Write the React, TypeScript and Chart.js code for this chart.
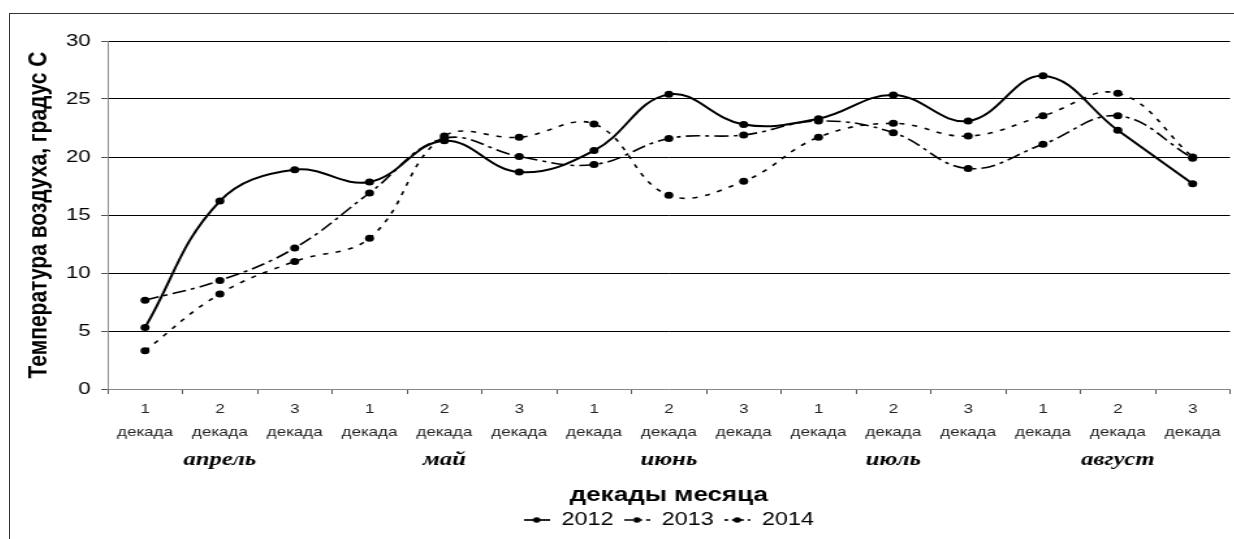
import React, { useEffect, useRef } from 'react';
import { Chart, registerables } from 'chart.js';

Chart.register(...registerables);

// ---- data ----
const decadeNumbers = ['1', '2', '3', '1', '2', '3', '1', '2', '3', '1', '2', '3', '1', '2', '3'];
const decadeWord = 'декада';
const monthNames = ['апрель', 'май', 'июнь', 'июль', 'август'];
const seriesNames = ['2012', '2013', '2014'];
const series2012 = [5.3, 16.2, 18.9, 17.85, 21.4, 18.7, 20.55, 25.4, 22.8, 23.3, 25.35, 23.1, 27.0, 22.3, 17.7];
const series2013 = [7.65, 9.35, 12.15, 16.9, 21.6, 20.05, 19.35, 21.6, 21.9, 23.1, 22.1, 19.0, 21.1, 23.55, 19.9];
const series2014 = [3.3, 8.2, 11.0, 13.0, 21.8, 21.7, 22.85, 16.7, 17.9, 21.7, 22.9, 21.8, 23.55, 25.5, 20.0];
const yTitle = 'Температура воздуха, градус С';
const xTitle = 'декады месяца';
const yMin = 0;
const yMax = 30;
const yStep = 5;

const S = 1.3; // horizontal stretch of the reference picture

const monthTicks = decadeNumbers.map((d, i) => (d === '2' ? monthNames[Math.floor(i / 3)] : ''));

export default function App() {
  const ref = useRef<HTMLCanvasElement>(null);

  useEffect(() => {
    document.body.style.overflow = 'hidden';
    Chart.defaults.font.family = "'Liberation Sans', Arial, sans-serif";

    const IW = 20;
    const mkIcon = (dash: number[]) => {
      const c = document.createElement('canvas');
      c.width = IW;
      c.height = 8;
      const g = c.getContext('2d')!;
      g.strokeStyle = '#000';
      g.lineWidth = 1.7;
      g.setLineDash(dash);
      g.beginPath();
      g.moveTo(0, 4);
      g.lineTo(IW, 4);
      g.stroke();
      g.setLineDash([]);
      g.fillStyle = '#000';
      g.beginPath();
      g.arc(IW / 2, 4, 2.8, 0, Math.PI * 2);
      g.fill();
      return c;
    };
    const dashes = [[], [11, 4, 3, 4], [4, 6]];
    const iconDashes = [[], [7, 4, 3, 3], [3, 3]];
    const icons = iconDashes.map(mkIcon);
    const values = [series2012, series2013, series2014];

    const chart = new Chart(ref.current!, {
      type: 'line',
      data: {
        labels: decadeNumbers.map((n) => [n, decadeWord]),
        datasets: values.map((v, i) => ({
          label: seriesNames[i],
          data: v,
          borderColor: '#000',
          backgroundColor: '#000',
          borderWidth: i === 0 ? 2 : 1.6,
          borderDash: dashes[i],
          pointRadius: 3.5,
          pointBackgroundColor: '#000',
          pointBorderWidth: 0,
          tension: 0.4,
          fill: false,
        })),
      },
      options: {
        animation: false,
        responsive: true,
        maintainAspectRatio: false,
        events: [],
        layout: { padding: { top: 27, right: 1, left: 0, bottom: 0 } },
        plugins: {
          tooltip: { enabled: false },
          legend: {
            position: 'bottom',
            fullSize: false,
            labels: {
              usePointStyle: true,
              pointStyleWidth: IW,
              padding: 8,
              color: '#000',
              font: { size: 18 },
              generateLabels: (ch: any) =>
                ch.data.datasets.map((ds: any, i: number) => ({
                  text: ds.label,
                  pointStyle: icons[i],
                  datasetIndex: i,
                  hidden: false,
                  fillStyle: '#000',
                  strokeStyle: '#000',
                  lineWidth: 0,
                  fontColor: '#000',
                })),
            },
          },
        },
        scales: {
          x: {
            type: 'category',
            position: 'bottom',
            offset: true,
            grid: {
              offset: true,
              drawOnChartArea: false,
              drawTicks: true,
              tickLength: 5,
              color: '#555',
            },
            border: { color: '#888', width: 1 },
            ticks: {
              autoSkip: false,
              maxRotation: 0,
              minRotation: 0,
              padding: 4,
              color: '#222',
              font: { size: 13, lineHeight: 1.75 },
            },
            afterFit: (s: any) => {
              s.height = 60;
            },
          },
          x2: {
            type: 'category',
            position: 'bottom',
            labels: monthTicks,
            offset: true,
            grid: { display: false, drawTicks: false },
            border: { display: false },
            ticks: {
              autoSkip: false,
              maxRotation: 0,
              minRotation: 0,
              padding: 0,
              color: '#000',
              font: { family: "'Liberation Serif', 'Times New Roman', serif", size: 19, style: 'italic', weight: 'bold' },
            },
            title: {
              display: true,
              text: xTitle,
              color: '#000',
              font: { size: 20, weight: 'bold', lineHeight: 0.8 },
              padding: { top: 0, bottom: 0 },
            },
            afterFit: (s: any) => {
              s.height = 54;
            },
          },
          y: {
            min: yMin,
            max: yMax,
            ticks: {
              stepSize: yStep,
              padding: 8,
              color: '#000',
              font: { size: 17 },
            },
            grid: {
              color: (ctx: any) => (ctx.tick && ctx.tick.value === 0 ? 'rgba(0,0,0,0)' : '#000'),
              tickColor: '#555',
              tickLength: 5,
              lineWidth: 1,
            },
            border: { color: '#888', width: 1 },
            title: {
              display: true,
              text: yTitle,
              color: '#000',
              font: { size: 21, weight: 'bold', lineHeight: 1.2 },
              padding: { top: 10, bottom: 0 },
            },
            afterFit: (s: any) => {
              s.width = 75;
            },
          },
        },
      } as any,
    });
    return () => chart.destroy();
  }, []);

  return (
    <div
      style={{
        position: 'fixed',
        left: 9,
        top: 13,
        width: 1225,
        height: 526,
        boxSizing: 'border-box',
        borderLeft: '1px solid #333',
        borderTop: '1px solid #333',
        overflow: 'hidden',
        background: '#fff',
      }}
    >
      <div style={{ width: 1224 / S, height: 525, transform: `scaleX(${S})`, transformOrigin: '0 0' }}>
        <canvas ref={ref} />
      </div>
    </div>
  );
}
